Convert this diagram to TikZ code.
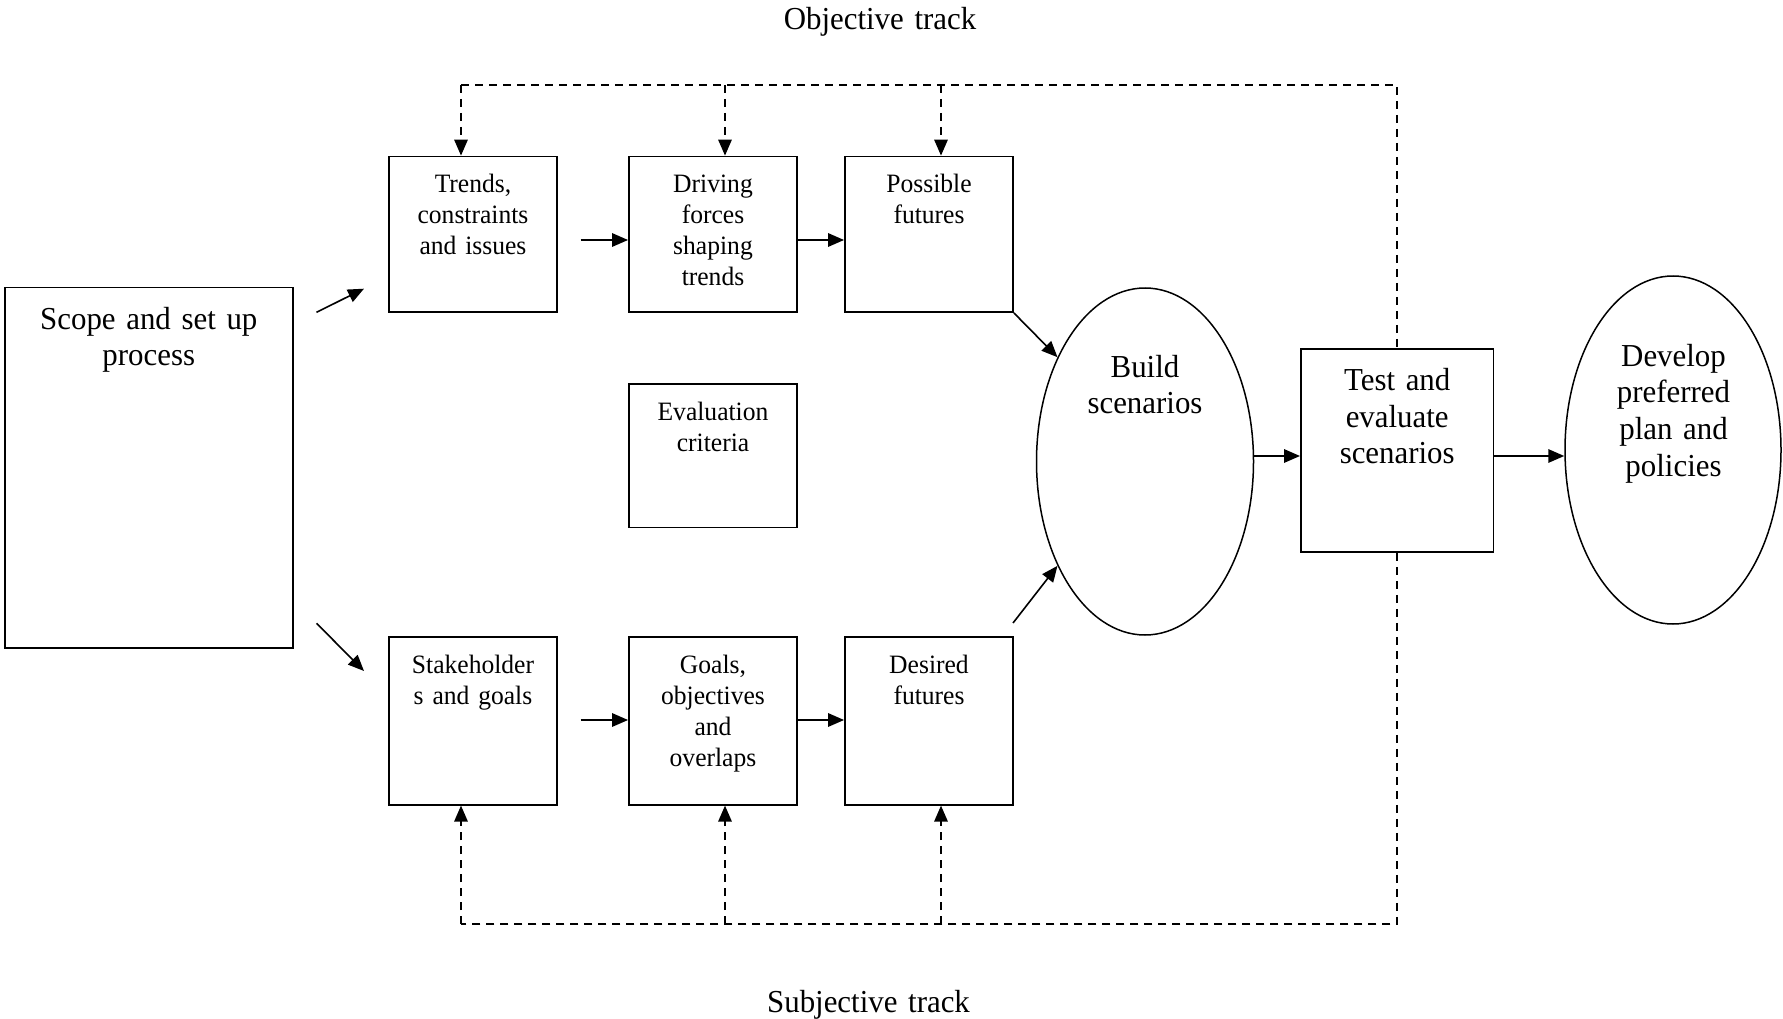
\documentclass[tikz,border=0pt]{standalone}
\usepackage{fontspec}
\setmainfont[FakeStretch=0.965]{Liberation Serif}
\usetikzlibrary{arrows.meta,shapes.geometric,calc}
\begin{document}
\begin{tikzpicture}[x=1pt,y=-1pt,
  box/.style={draw,line width=1.9pt,rectangle,inner sep=0pt,minimum width=168pt},
  topbox/.style={box,minimum height=155.5pt},
  lowbox/.style={box,minimum height=167.7pt},
  oval/.style={draw,line width=1.5pt,ellipse,inner sep=0pt},
  small/.style={anchor=base,inner sep=0pt,text width=170pt,align=center,font=\fontsize{26.5pt}{31pt}\selectfont},
  large/.style={anchor=base,inner sep=0pt,text width=260pt,align=center,font=\fontsize{32pt}{36.7pt}\selectfont},
  arr/.style={line width=1.6pt,-{Triangle[length=16pt,width=13.5pt]}},
  dsh/.style={line width=1.5pt,dash pattern=on 8pt off 6pt},
  dsharr/.style={dsh,-{Triangle[length=16pt,width=13.5pt]}}]
\useasboundingbox (0,0) rectangle (1783,1019);

% titles
\node[large] (objt) at (880,30) {Objective track};
\node[large] (subt) at (868.5,1012) {Subjective track};

% scope
\node[box,minimum width=288.4pt,minimum height=360.5pt] (scope) at (148.8,467.7) {};
\node[large] (scopet) at ([yshift=-42.5pt]scope.north) {Scope and set up\\process};

% objective row
\node[topbox] (trends) at (473,234.3) {};
\node[topbox] (driving) at (713,234.3) {};
\node[topbox] (possible) at (929,234.3) {};
\node[small] (trendst) at ([yshift=-37pt]trends.north) {Trends,\\constraints\\and issues};
\node[small] (drivingt) at ([yshift=-37pt]driving.north) {Driving\\forces\\shaping\\trends};
\node[small] (possiblet) at ([yshift=-37pt]possible.north) {Possible\\futures};

% evaluation
\node[box,minimum height=143.5pt] (evalc) at (713,455.7) {};
\node[small] (evalct) at ([yshift=-37pt]evalc.north) {Evaluation\\criteria};

% subjective row
\node[lowbox] (stake) at (473,720.8) {};
\node[lowbox] (goals) at (713,720.8) {};
\node[lowbox] (desired) at (929,720.8) {};
\node[small] (staket) at ([yshift=-37pt]stake.north) {Stakeholder\\s and goals};
\node[small] (goalst) at ([yshift=-37pt]goals.north) {Goals,\\objectives\\and\\overlaps};
\node[small] (desiredt) at ([yshift=-37pt]desired.north) {Desired\\futures};

% build, test, develop
\node[oval,minimum width=217pt,minimum height=347pt] (build) at (1145,461.5) {};
\node[large] (buildt) at (1145,377) {Build\\scenarios};
\node[box,minimum width=192.5pt,minimum height=203pt] (test) at (1397.2,450.5) {};
\node[large] (testt) at (1397.2,390.5) {Test and\\evaluate\\scenarios};
\node[oval,minimum width=216pt,minimum height=348pt] (develop) at (1673,450) {};
\node[large] (developt) at (1673.5,366) {Develop\\preferred\\plan and\\policies};

% solid arrows
\coordinate (s1) at (316.5,312.3);
\coordinate (s1e) at (364,288.7);
\coordinate (s2) at (316.5,623.3);
\coordinate (s2e) at (364,671);
\draw[arr] (s1) -- (s1e);
\draw[arr] (s2) -- (s2e);
\coordinate (a1) at (580.5,240);
\draw[arr] (a1) -- (a1 -| driving.west);
\draw[arr] (driving.east |- a1) -- (possible.west |- a1);
\coordinate (a2) at (580.5,720);
\draw[arr] (a2) -- (a2 -| goals.west);
\draw[arr] (goals.east |- a2) -- (desired.west |- a2);
\draw[arr] (possible.south east) -- (build.130);
\coordinate (d0) at (1013,623);
\draw[arr] (d0) -- (build.230);
\coordinate (bt) at (1253.5,456);
\draw[arr] (bt) -- (bt -| test.west);
\draw[arr] (test.east |- bt) -- (develop.west |- bt);

% dashed feedback, top
\coordinate (t1) at (461,85);
\coordinate (t2) at (725,85);
\coordinate (t3) at (941,85);
\draw[dsh] (t1) -- (test.north |- t1) -- (test.north);
\draw[dsharr] (t1) -- (t1 |- trends.north);
\draw[dsharr] (t2) -- (t2 |- driving.north);
\draw[dsharr] (t3) -- (t3 |- possible.north);

% dashed feedback, bottom
\coordinate (b1) at (461,924);
\coordinate (b2) at (725,924);
\coordinate (b3) at (941,924);
\draw[dsh] (test.south) -- (test.south |- b1) -- (b1);
\draw[dsharr] (b1) -- (b1 |- stake.south);
\draw[dsharr] (b2) -- (b2 |- goals.south);
\draw[dsharr] (b3) -- (b3 |- desired.south);
\end{tikzpicture}
\end{document}
